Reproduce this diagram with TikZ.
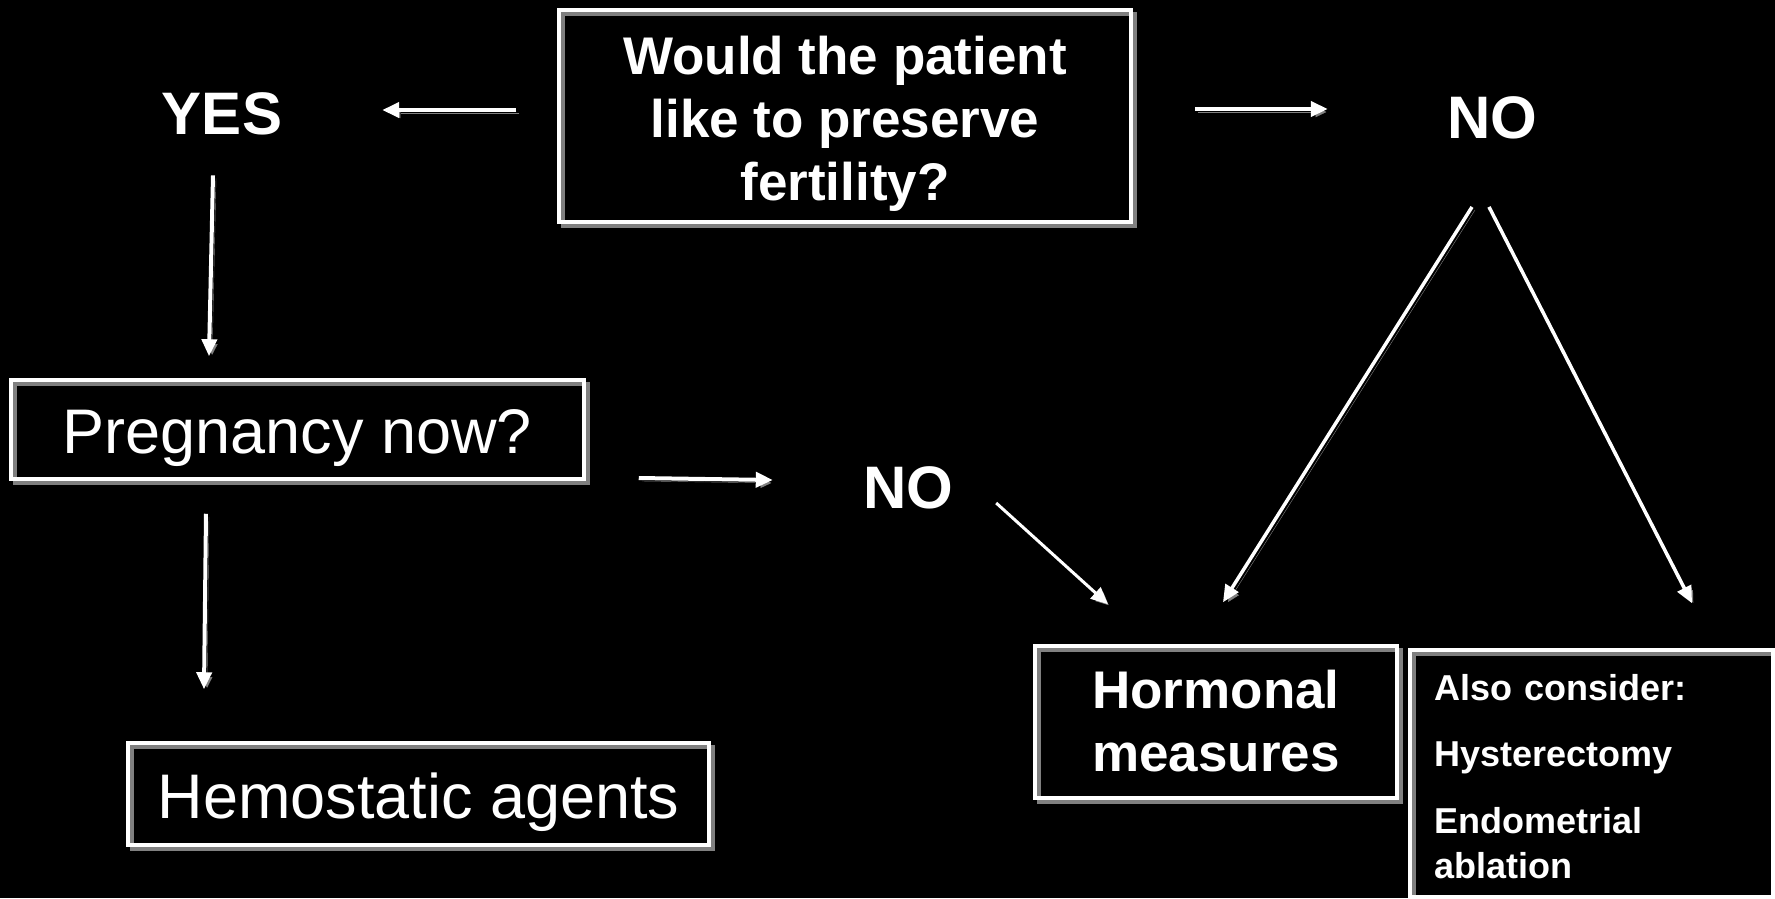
\documentclass[tikz,border=0pt]{standalone}
\usepackage{fontspec}
\setmainfont{Liberation Sans}
\usetikzlibrary{arrows.meta, positioning}
\definecolor{ShadowGray}{RGB}{128,128,128}

\begin{document}
\begin{tikzpicture}[x=1pt, y=-1pt,
    box/.style={draw=white, line width=3.5pt, text=white, inner sep=0pt,
      preaction={draw=ShadowGray, transform canvas={shift={(4pt,-4pt)}}}},
    word/.style={text=white, inner sep=0pt, font=\fontsize{60}{72}\selectfont\bfseries},
    arr/.style={draw=white, line width=4pt, -{Triangle[length=17pt,width=15pt]},
      preaction={draw=ShadowGray, transform canvas={shift={(3pt,-3pt)}}}}]
  \fill[black] (0,0) rectangle (1775,898);
  \useasboundingbox (0,0) rectangle (1775,898);

  % question and answers
  \node[box, minimum width=572pt, minimum height=212pt, align=center,
    text height=179pt, text depth=11pt, font=\fontsize{53}{63}\selectfont\bfseries]
    (top) at (845,116) {Would the patient\\like to preserve\\fertility?};
  \node[word] (yes) at (222,114) {YES};
  \node[word] (notop) at (1492,118) {NO};
  \node[word] (nomid) at (908,488) {NO};

  % left branch
  \node[box, minimum width=573pt, minimum height=99pt, text height=52pt, text depth=5pt,
    font=\fontsize{63}{76}\selectfont] (preg) at (297.5,429.5) {Pregnancy now?};
  \node[box, minimum width=581pt, minimum height=102pt, text height=52pt, text depth=4pt,
    font=\fontsize{63}{76}\selectfont] (hemo) at (418.5,794) {Hemostatic agents};

  % right branch
  \node[box, minimum width=362pt, minimum height=152pt, align=center,
    text height=108pt, text depth=10pt, font=\fontsize{53}{63}\selectfont\bfseries]
    (horm) at (1216,722) {Hormonal\\measures};
  \node[box, minimum width=363pt, minimum height=247pt, text width=315pt, align=left,
    text height=27pt, text depth=174pt, font=\fontsize{36}{45}\selectfont\bfseries]
    (also) at (1591.5,773.5) {Also consider:\\[21pt]Hysterectomy\\[22pt]Endometrial\\ablation};

  % connectors
  \draw[arr] ([shift={(-41,-6)}]top.west) -- ([shift={(100,-4)}]yes.east);
  \draw[arr] ([shift={(62,-7)}]top.east) -- ([shift={(-119,-9)}]notop.west);
  \draw[arr] ([shift={(-9,40)}]yes.south) -- ([shift={(-88.5,-22)}]preg.north);
  \draw[arr] ([shift={(-91.5,33)}]preg.south) -- ([shift={(-214.5,-52)}]hemo.north);
  \draw[arr] ([shift={(53,48.5)}]preg.east) -- ([shift={(-90,-8)}]nomid.west);
  \draw[arr, line width=3pt] ([shift={(43,15)}]nomid.east) -- ([shift={(-108,-40)}]horm.north);
  \draw[arr, line width=3.5pt] ([shift={(-20,67.5)}]notop.south) -- ([shift={(7,-42)}]horm.north);
  \draw[arr, line width=3.5pt] ([shift={(-3,67.5)}]notop.south) -- ([shift={(100.5,-45)}]also.north);
\end{tikzpicture}
\end{document}
